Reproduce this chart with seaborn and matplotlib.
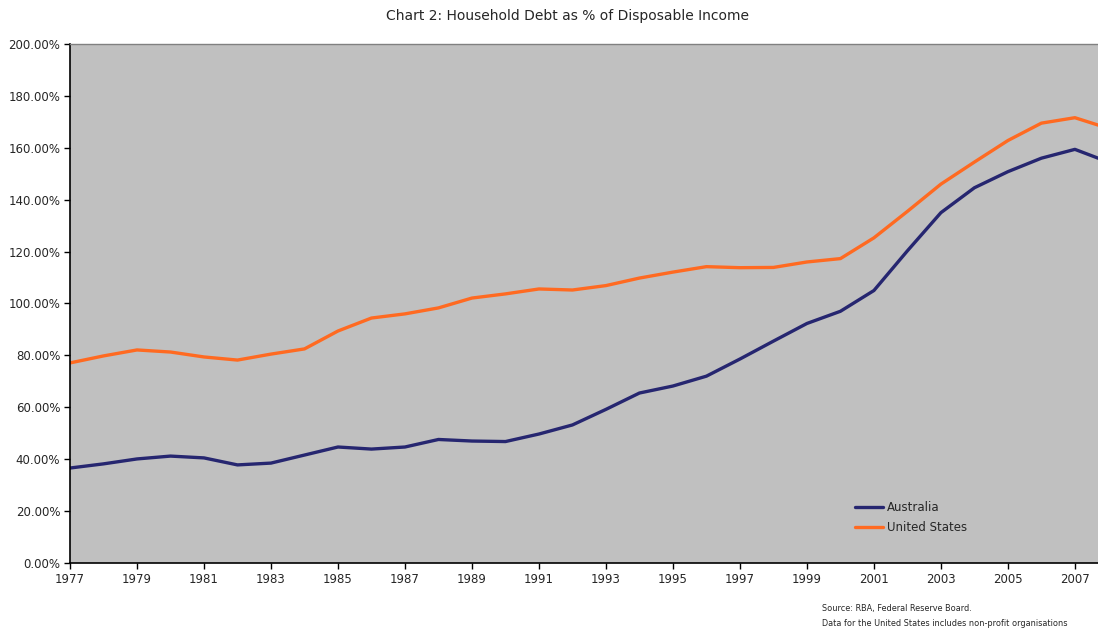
import numpy as np
import pandas as pd
import matplotlib
matplotlib.use("Agg")
import matplotlib.pyplot as plt
import seaborn as sns
from matplotlib.ticker import FuncFormatter, MultipleLocator, FixedLocator

years = list(range(1977, 2009))
australia = [36.6, 38.2, 40.1, 41.2, 40.5, 37.8, 38.5, 41.6, 44.7, 43.9,
             44.7, 47.6, 47.0, 46.8, 49.7, 53.2, 59.2, 65.5, 68.2, 72.0,
             78.6, 85.5, 92.3, 97.0, 105.0, 120.3, 135.0, 144.6, 150.8, 156.0,
             159.4, 154.5]
united_states = [77.1, 79.8, 82.1, 81.3, 79.4, 78.2, 80.5, 82.5, 89.4, 94.4,
                 96.0, 98.3, 102.1, 103.7, 105.6, 105.2, 106.9, 109.8, 112.1, 114.2,
                 113.8, 113.9, 116.0, 117.3, 125.3, 135.5, 146.0, 154.5, 162.8, 169.5,
                 171.6, 167.5]
tick_years = list(range(1977, 2008, 2))
series_names = ["Australia", "United States"]
colors = ["#262670", "#FF6A21"]

df = pd.DataFrame({
    "Year": years * 2,
    "Value": australia + united_states,
    "Series": [series_names[0]] * len(years) + [series_names[1]] * len(years),
})

sns.set_style("white")
plt.rcParams["font.family"] = ["DejaVu Sans"]

fig = plt.figure(figsize=(10.98, 6.31), dpi=100)
ax = fig.add_axes([70 / 1098, 68 / 631, 1028 / 1098, 519 / 631])
ax.set_facecolor("#C0C0C0")

sns.lineplot(data=df, x="Year", y="Value", hue="Series",
             palette=dict(zip(series_names, colors)), linewidth=2.4,
             ax=ax, legend=True)

ax.set_xlim(1977, 2007.69)
ax.set_ylim(0, 200)
ax.xaxis.set_major_locator(FixedLocator(tick_years))
ax.xaxis.set_major_formatter(FuncFormatter(lambda v, p: f"{int(round(v))}"))
ax.yaxis.set_major_locator(MultipleLocator(20))
ax.yaxis.set_major_formatter(FuncFormatter(lambda v, p: f"{v:.2f}%"))
ax.tick_params(axis="both", which="major", direction="out", length=4, width=1,
               color="black", labelsize=8.5, pad=3, left=True, bottom=True)
ax.set_xlabel("")
ax.set_ylabel("")
for side in ["left", "bottom"]:
    ax.spines[side].set_color("black")
    ax.spines[side].set_linewidth(1.2)
ax.spines["top"].set_color("#808080")
ax.spines["top"].set_linewidth(1.0)
ax.spines["right"].set_visible(False)

leg = ax.legend(loc="upper left", bbox_to_anchor=(855 / 1098, 1 - 501 / 631),
                bbox_transform=fig.transFigure, frameon=False, fontsize=8.5,
                handlelength=2.4, handletextpad=0.3, labelspacing=0.62,
                borderaxespad=0, borderpad=0)

fig.text(567 / 1098, 1 - 16 / 631, "Chart 2: Household Debt as % of Disposable Income",
         ha="center", va="center", fontsize=10)
fig.text(822 / 1098, 1 - 609 / 631, "Source: RBA, Federal Reserve Board.",
         ha="left", va="center", fontsize=5.9)
fig.text(822 / 1098, 1 - 624 / 631, "Data for the United States includes non-profit organisations",
         ha="left", va="center", fontsize=5.9)

fig.savefig("out.png", dpi=100, facecolor="white")
